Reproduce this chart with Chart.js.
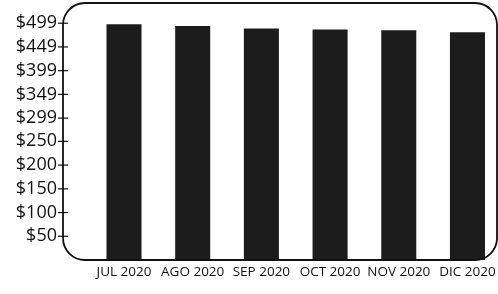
<!DOCTYPE html>
<html>
<head>
<meta charset="utf-8">
<script src="https://cdn.jsdelivr.net/npm/chart.js@4.4.1/dist/chart.umd.min.js"></script>
<style>
  html, body { margin: 0; padding: 0; background: #fff; }
  #wrap { width: 498px; height: 294px; position: relative; }
</style>
</head>
<body>
<div id="wrap"><canvas id="priceChart"></canvas></div>
<script>
const months = ["JUL 2020", "AGO 2020", "SEP 2020", "OCT 2020", "NOV 2020", "DIC 2020"];
const prices = [497, 493, 488, 486, 484, 480];
const yTicks = [50, 100, 150, 200, 250, 299, 349, 399, 449, 499];

// rounded frame + little cross ticks on the y axis
const framePlugin = {
    id: "frame",
    afterDraw(chart) {
        const { ctx, chartArea: a } = chart;
        const y = chart.scales.y;
        const r = 22;
        ctx.save();
        ctx.strokeStyle = "#111";
        ctx.lineWidth = 1.8;
        ctx.beginPath();
        ctx.roundRect(a.left, a.top, a.right - a.left, a.bottom - a.top, r);
        ctx.stroke();
        ctx.lineWidth = 1.2;
        yTicks.forEach(v => {
            const py = y.getPixelForValue(v);
            ctx.beginPath();
            ctx.moveTo(a.left - 5, py);
            ctx.lineTo(a.left + 5, py);
            ctx.stroke();
        });
        ctx.restore();
    }
};

const ctx = document.getElementById("priceChart").getContext("2d");
new Chart(ctx, {
    type: "bar",
    data: {
        datasets: [{
            data: prices.map((p, i) => ({ x: i, y: p })),
            backgroundColor: "#1c1c1c",
            borderWidth: 0,
            barPercentage: 0.51,
            categoryPercentage: 1
        }]
    },
    options: {
        responsive: true,
        maintainAspectRatio: false,
        animation: false,
        layout: { padding: { top: 3, right: 1, left: 0, bottom: 0 } },
        plugins: { legend: { display: false }, tooltip: { enabled: false } },
        scales: {
            x: {
                type: "linear",
                offset: false,
                min: -0.888,
                max: 5.43,
                grid: { display: false, drawTicks: false },
                border: { display: false },
                afterBuildTicks: scale => {
                    scale.ticks = months.map((m, i) => ({ value: i }));
                },
                afterFit: scale => {
                    scale.height = 34;
                    scale.paddingLeft = 0;
                    scale.paddingRight = 0;
                },
                ticks: {
                    padding: 4,
                    color: "#111",
                    font: { family: "Open Sans", size: 13.5 },
                    maxRotation: 0,
                    autoSkip: false,
                    callback: v => months[v]
                }
            },
            y: {
                min: 0,
                max: 541.6,
                grid: { display: false, drawTicks: false },
                border: { display: false },
                afterBuildTicks: scale => {
                    scale.ticks = yTicks.map(v => ({ value: v }));
                },
                afterFit: scale => {
                    scale.width = 63;
                    scale.paddingTop = 0;
                    scale.paddingBottom = 0;
                },
                ticks: {
                    padding: 6,
                    color: "#111",
                    font: { family: "Open Sans", size: 18 },
                    autoSkip: false,
                    callback: v => "$" + v
                }
            }
        }
    },
    plugins: [framePlugin]
});
</script>
</body>
</html>
